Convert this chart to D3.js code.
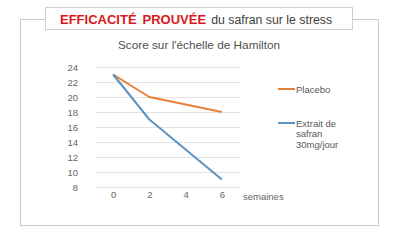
<!DOCTYPE html>
<html>
<head>
<meta charset="utf-8">
<script src="https://cdn.jsdelivr.net/npm/d3@7"></script>
<style>
  body { margin: 0; background: #fff; }
  svg { display: block; font-family: "Liberation Sans", Arial, sans-serif; }
</style>
</head>
<body>
<div id="chart"></div>
<script>
// data
const weeks = [0, 2, 4, 6];
const placebo = [23, 20, 19, 18];
const safran = [23, 17, 13, 9];
const yTicks = [8, 10, 12, 14, 16, 18, 20, 22, 24];
const seriesNames = ["Placebo", "Extrait de safran 30mg/jour"];

const width = 396, height = 243;
const svg = d3.select("#chart").append("svg")
    .attr("width", width)
    .attr("height", height);

// outer frame with a gap for the heading box
svg.append("path")
    .attr("d", "M45,19.5 H20.5 V225.5 H378.5 V19.5 H353")
    .attr("fill", "none")
    .attr("stroke", "#c8c8c8")
    .attr("stroke-width", 1);

svg.append("rect")
    .attr("x", 45.5).attr("y", 7.5)
    .attr("width", 307).attr("height", 22)
    .attr("fill", "#fff")
    .attr("stroke", "#d0d0d0");

const heading = svg.append("text")
    .attr("x", 60).attr("y", 23.5);
heading.append("tspan")
    .attr("fill", "#d7191c")
    .attr("font-weight", "bold")
    .attr("font-size", 13)
    .text("EFFICACITÉ");
heading.append("tspan")
    .attr("fill", "#d7191c")
    .attr("font-weight", "bold")
    .attr("font-size", 13)
    .attr("dx", 6)
    .text("PROUVÉE");
heading.append("tspan")
    .attr("fill", "#404040")
    .attr("font-size", 12.3)
    .attr("dx", 5)
    .text("du safran sur le stress");

svg.append("text")
    .attr("x", 199).attr("y", 49)
    .attr("text-anchor", "middle")
    .attr("font-size", 11.8)
    .attr("fill", "#505050")
    .text("Score sur l'échelle de Hamilton");

// plot area
const x = d3.scalePoint()
    .domain(weeks)
    .range([95, 240])
    .padding(0.5);

const y = d3.scaleLinear()
    .domain([8, 24])
    .range([187, 67]);

const g = svg.append("g");

g.append("g")
    .selectAll("line")
    .data(yTicks)
    .join("line")
    .attr("x1", 95).attr("x2", 240)
    .attr("y1", d => Math.round(y(d)) + 0.5)
    .attr("y2", d => Math.round(y(d)) + 0.5)
    .attr("stroke", "#e2e2e2");

const tickColor = "#666";
const yAxis = g.append("g")
    .attr("transform", "translate(78,0)")
    .call(d3.axisLeft(y).tickValues(yTicks).tickSize(0).tickPadding(0));
yAxis.select(".domain").remove();
yAxis.selectAll("text")
    .attr("font-size", 9.5)
    .attr("fill", tickColor)
    .attr("font-family", "Liberation Sans, Arial, sans-serif");

const xAxis = g.append("g")
    .attr("transform", "translate(0,191)")
    .call(d3.axisBottom(x).tickSize(0).tickPadding(0));
xAxis.select(".domain").remove();
xAxis.selectAll("text")
    .attr("font-size", 9.5)
    .attr("fill", tickColor)
    .attr("font-family", "Liberation Sans, Arial, sans-serif");

svg.append("text")
    .attr("x", 243).attr("y", 199.5)
    .attr("font-size", 9.5)
    .attr("fill", tickColor)
    .text("semaines");

const line = d3.line()
    .x((d, i) => x(weeks[i]))
    .y(d => y(d));

const colors = ["#e8803a", "#5b93c4"];
[placebo, safran].forEach((s, i) => {
    g.append("path")
        .datum(s)
        .attr("fill", "none")
        .attr("stroke", colors[i])
        .attr("stroke-width", 2)
        .attr("stroke-linejoin", "round")
        .attr("d", line);
});

// legend
const legend = svg.append("g");
const legendY = [89, 123];
seriesNames.forEach((name, i) => {
    legend.append("line")
        .attr("x1", 278).attr("x2", 295)
        .attr("y1", legendY[i]).attr("y2", legendY[i])
        .attr("stroke", colors[i])
        .attr("stroke-width", 2);
});
legend.append("text")
    .attr("x", 296).attr("y", 92.5)
    .attr("font-size", 9.5)
    .attr("fill", "#595959")
    .text(seriesNames[0]);
const t2 = legend.append("text")
    .attr("font-size", 9.5)
    .attr("fill", "#595959");
["Extrait de", "safran", "30mg/jour"].forEach((l, i) => {
    t2.append("tspan")
        .attr("x", 296)
        .attr("y", 126.5 + i * 10.5)
        .text(l);
});
</script>
</body>
</html>
